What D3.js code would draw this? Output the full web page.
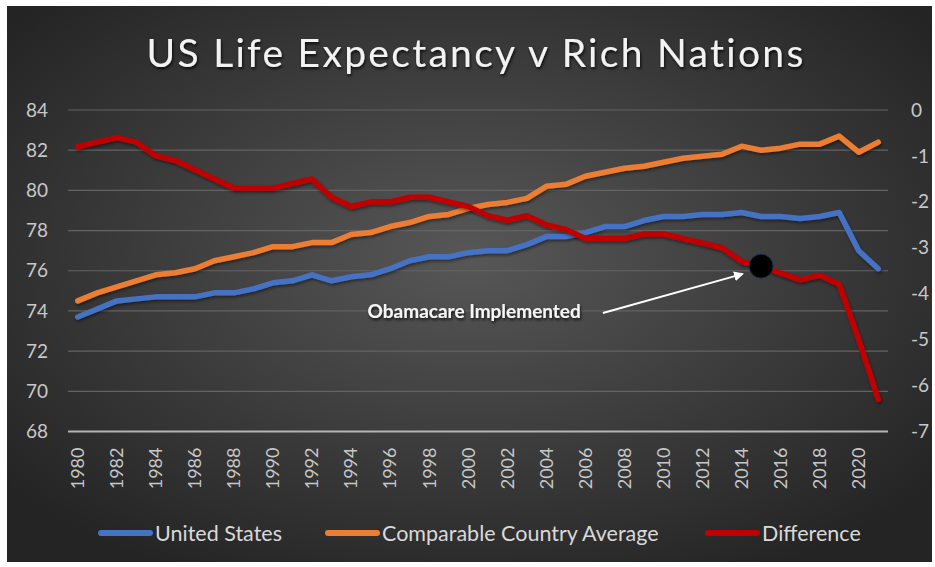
<!DOCTYPE html>
<html>
<head>
<meta charset="utf-8">
<script src="https://cdn.jsdelivr.net/npm/d3@7"></script>
<style>
  body { margin: 0; background: #fff; }
  svg { display: block; font-family: Lato, "Open Sans", sans-serif; }
</style>
</head>
<body>
<div id="chart"></div>
<script>
// data
const years = d3.range(1980, 2022);
const unitedStates = [
  73.7, 74.1, 74.5, 74.6, 74.7, 74.7, 74.7, 74.9, 74.9, 75.1,
  75.4, 75.5, 75.8, 75.5, 75.7, 75.8, 76.1, 76.5, 76.7, 76.7,
  76.9, 77.0, 77.0, 77.3, 77.7, 77.7, 77.9, 78.2, 78.2, 78.5,
  78.7, 78.7, 78.8, 78.8, 78.9, 78.7, 78.7, 78.6, 78.7, 78.9,
  77.0, 76.1
];
const comparable = [
  74.5, 74.9, 75.2, 75.5, 75.8, 75.9, 76.1, 76.5, 76.7, 76.9,
  77.2, 77.2, 77.4, 77.4, 77.8, 77.9, 78.2, 78.4, 78.7, 78.8,
  79.1, 79.3, 79.4, 79.6, 80.2, 80.3, 80.7, 80.9, 81.1, 81.2,
  81.4, 81.6, 81.7, 81.8, 82.2, 82.0, 82.1, 82.3, 82.3, 82.7,
  81.9, 82.4
];
const difference = [
  -0.8, -0.7, -0.6, -0.7, -1.0, -1.1, -1.3, -1.5, -1.7, -1.7,
  -1.7, -1.6, -1.5, -1.9, -2.1, -2.0, -2.0, -1.9, -1.9, -2.0,
  -2.1, -2.3, -2.4, -2.3, -2.5, -2.6, -2.8, -2.8, -2.8, -2.7,
  -2.7, -2.8, -2.9, -3.0, -3.3, -3.4, -3.55, -3.7, -3.6, -3.8,
  -5.0, -6.3
];
const leftTicks = [68, 70, 72, 74, 76, 78, 80, 82, 84];
const rightTicks = [0, -1, -2, -3, -4, -5, -6, -7];
const xTicks = years.filter(y => y % 2 === 0);
const seriesNames = ["United States", "Comparable Country Average", "Difference"];
const seriesColors = ["#4472C4", "#ED7D31", "#C00000"];
const markerYear = 2015;
const noteText = "Obamacare Implemented";
const titleText = "US Life Expectancy v Rich Nations";

const width = 935, height = 567;
const plot = { left: 68, right: 888, top: 110, bottom: 431.5 };

let svg = d3.select('#chart').append('svg')
  .attr('width', width)
  .attr('height', height);

let defs = svg.append('defs');
let grad = defs.append('radialGradient')
  .attr('id', 'bg')
  .attr('cx', '50%').attr('cy', '45%').attr('r', '65%');
grad.append('stop').attr('offset', '0%').attr('stop-color', '#575757');
grad.append('stop').attr('offset', '100%').attr('stop-color', '#242424');

let shadow = defs.append('filter').attr('id', 'shadow')
  .attr('x', '-10%').attr('y', '-10%').attr('width', '120%').attr('height', '130%');
shadow.append('feDropShadow')
  .attr('dx', 1).attr('dy', 2).attr('stdDeviation', 1.5)
  .attr('flood-color', '#000').attr('flood-opacity', 0.45);

let glow = defs.append('filter').attr('id', 'glow')
  .attr('x', '-5%').attr('y', '-20%').attr('width', '110%').attr('height', '150%');
glow.append('feDropShadow')
  .attr('dx', 1).attr('dy', 2).attr('stdDeviation', 1.5)
  .attr('flood-color', '#000').attr('flood-opacity', 0.8);

defs.append('marker')
  .attr('id', 'arrow')
  .attr('viewBox', '0 0 10 10')
  .attr('refX', 8).attr('refY', 5)
  .attr('markerWidth', 5).attr('markerHeight', 5)
  .attr('orient', 'auto')
  .append('path')
  .attr('d', 'M0,0L10,5L0,10z')
  .attr('fill', '#fff');

// panel
svg.append('rect')
  .attr('x', 7).attr('y', 6)
  .attr('width', 925).attr('height', 556)
  .attr('fill', 'url(#bg)');

// title
svg.append('text')
  .attr('x', 476).attr('y', 67)
  .attr('text-anchor', 'middle')
  .attr('fill', '#f2f2f2')
  .attr('font-size', 39)
  .attr('letter-spacing', 2.3)
  .attr('filter', 'url(#glow)')
  .text(titleText);

// scales
let x = d3.scaleBand().domain(years).range([plot.left, plot.right]);
let xc = d => x(d) + x.bandwidth() / 2;
let yL = d3.scaleLinear().domain([68, 84]).range([plot.bottom, plot.top]);
let yR = d3.scaleLinear().domain([-7, 0]).range([plot.bottom, plot.top]);

// gridlines
svg.append('g').selectAll('line')
  .data(leftTicks.slice(1))
  .enter().append('line')
  .attr('x1', plot.left).attr('x2', plot.right)
  .attr('y1', d => yL(d)).attr('y2', d => yL(d))
  .attr('stroke', '#636363')
  .attr('stroke-width', 1.2);

// axes
let leftAxis = svg.append('g')
  .attr('transform', `translate(${plot.left},0)`)
  .call(d3.axisLeft(yL).tickValues(leftTicks).tickSize(0).tickPadding(20)
    .tickFormat(d => String(d)));
let rightAxis = svg.append('g')
  .attr('transform', `translate(${plot.right},0)`)
  .call(d3.axisRight(yR).tickValues(rightTicks).tickSize(0).tickPadding(23)
    .tickFormat(d => String(d)));
let bottomAxis = svg.append('g')
  .attr('transform', `translate(0,${plot.bottom})`)
  .call(d3.axisBottom(x).tickValues(xTicks).tickSize(0));

[leftAxis, rightAxis, bottomAxis].forEach(a => {
  a.select('.domain').remove();
  a.selectAll('text')
    .attr('fill', '#c8c8c8')
    .attr('font-size', 19)
    .attr('font-family', 'Lato, sans-serif');
});
bottomAxis.selectAll('text')
  .attr('font-size', 18)
  .attr('transform', 'rotate(-90)')
  .attr('text-anchor', 'end')
  .attr('x', -16)
  .attr('y', 0)
  .attr('dy', '0.35em');

// baseline
svg.append('line')
  .attr('x1', plot.left).attr('x2', plot.right)
  .attr('y1', yL(68)).attr('y2', yL(68))
  .attr('stroke', '#b4b4b4')
  .attr('stroke-width', 2);

// lines
let lineL = d3.line().x((d, i) => xc(years[i])).y(d => yL(d));
let lineR = d3.line().x((d, i) => xc(years[i])).y(d => yR(d));
let seriesPaths = [
  { values: unitedStates, gen: lineL },
  { values: comparable, gen: lineL },
  { values: difference, gen: lineR }
];
svg.append('g').selectAll('path')
  .data(seriesPaths)
  .enter().append('path')
  .attr('d', d => d.gen(d.values))
  .attr('fill', 'none')
  .attr('stroke', (d, i) => seriesColors[i])
  .attr('stroke-width', 5.5)
  .attr('stroke-linejoin', 'round')
  .attr('stroke-linecap', 'round')
  .attr('filter', 'url(#shadow)');

// marker dot at 2015
let mi = years.indexOf(markerYear);
let mx = xc(markerYear), my = yR(difference[mi]);
svg.append('circle')
  .attr('cx', mx).attr('cy', my).attr('r', 12)
  .attr('fill', '#000')
  .attr('stroke', '#1f3050')
  .attr('stroke-width', 1);

// annotation
svg.append('text')
  .attr('x', xc(1995) - 3).attr('y', yL(74) + 7)
  .attr('text-anchor', 'start')
  .attr('fill', '#f5f5f5')
  .attr('font-weight', 'bold')
  .attr('font-size', 19)
  .attr('filter', 'url(#glow)')
  .text(noteText);
svg.append('line')
  .attr('x1', xc(2007) - 2).attr('y1', yL(74) + 2)
  .attr('x2', mx - 19).attr('y2', my + 8)
  .attr('stroke', '#fff')
  .attr('stroke-width', 2)
  .attr('marker-end', 'url(#arrow)');

// legend
let legendX = [98, 325, 705];
let legend = svg.append('g').selectAll('g')
  .data(seriesNames)
  .enter().append('g')
  .attr('transform', (d, i) => `translate(${legendX[i]},533)`);
legend.append('line')
  .attr('x1', 3).attr('x2', 52)
  .attr('stroke', (d, i) => seriesColors[i])
  .attr('stroke-width', 6)
  .attr('stroke-linecap', 'round');
legend.append('text')
  .attr('x', 57).attr('dy', '0.35em')
  .attr('fill', '#d9d9d9')
  .attr('font-size', 21.5)
  .text(d => d);
</script>
</body>
</html>
